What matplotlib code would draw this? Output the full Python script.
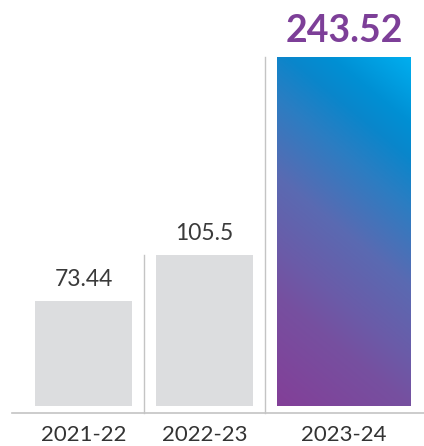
import numpy as np
import matplotlib
matplotlib.use("Agg")
import matplotlib.pyplot as plt
from matplotlib.colors import LinearSegmentedColormap

# data
categories = ["2021-22", "2022-23", "2023-24"]
values = [73.44, 105.5, 243.52]
labels = ["73.44", "105.5", "243.52"]

# layout (pixel-ish units along x)
lefts = [35, 156, 277]
widths = [97, 97, 134]
seps = [144, 265]

plt.rcParams['font.family'] = ['Lato', 'DejaVu Sans']

W, H = 424, 446
fig = plt.figure(figsize=(W / 100, H / 100), dpi=100)
ax = fig.add_axes([0, 0, 1, 1])
scale = 349 / 243.52          # px per unit
ax.set_xlim(0, W)
ax.set_ylim(-(H - 406) / scale, 406 / scale)
ax.axis('off')

gray = "#dcdddf"
base = -7 / scale

# gray bars
for i in range(2):
    ax.bar(lefts[i], values[i], width=widths[i], align='edge', color=gray, zorder=2)

# gradient bar (diagonal, purple bottom-left -> cyan top-right)
bar3 = ax.bar(lefts[2], values[2], width=widths[2], align='edge', color='none', zorder=2)[0]
stops = [(0.0, "#833f98"), (0.24, "#7650a0"), (0.34, "#6b5ba8"), (0.5, "#5a6ab2"),
         (0.67, "#2c7dc2"), (0.78, "#0a86cb"), (0.86, "#0090d4"), (1.0, "#00aeef")]
cmap = LinearSegmentedColormap.from_list("grad", stops)
n = 300
xx, yy = np.meshgrid(np.linspace(0, 1, n), np.linspace(0, 1, n))
t = 0.24 * xx + 0.76 * yy
im = ax.imshow(t, cmap=cmap, origin='lower', aspect='auto', vmin=0, vmax=1,
               extent=[lefts[2], lefts[2] + widths[2], 0, values[2]], zorder=3)
im.set_clip_path(bar3)

# separators and baseline
for i, sx in enumerate(seps):
    ax.plot([sx, sx], [base, values[i + 1]], color="#c4c4c4", lw=1, zorder=1)
ax.plot([12, W], [base, base], color="#c4c4c4", lw=1.2, zorder=1)

# value labels
for i in range(2):
    ax.text(lefts[i] + widths[i] / 2, values[i] + 11 / scale, labels[i],
            ha='center', va='bottom', fontsize=16.5, color="#3a3a3a")
ax.text(lefts[2] + widths[2] / 2, values[2] + 9 / scale, labels[2],
        ha='center', va='bottom', fontsize=27, fontweight='bold', color="#7d3f98")

# category labels
for i in range(3):
    ax.text(lefts[i] + widths[i] / 2, base - 12 / scale, categories[i],
            ha='center', va='top', fontsize=16, color="#333333")

fig.savefig("out.png", dpi=100)
